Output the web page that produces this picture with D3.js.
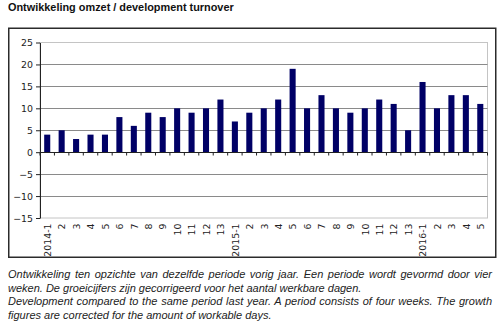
<!DOCTYPE html>
<html>
<head>
<meta charset="utf-8">
<script src="https://cdn.jsdelivr.net/npm/d3@7"></script>
<style>
  html, body { margin: 0; padding: 0; background: #fff; }
  svg { display: block; }
</style>
</head>
<body>
<svg id="chart" width="500" height="325"></svg>
<script>
// Four-weekly periods (13 per year)
const periods = [
  "2014-1","2","3","4","5","6","7","8","9","10","11","12","13",
  "2015-1","2","3","4","5","6","7","8","9","10","11","12","13",
  "2016-1","2","3","4","5"
];
// Year-on-year turnover development, %
const growth = [
  4, 5, 3, 4, 4, 8, 6, 9, 8, 10, 9, 10, 12,
  7, 9, 10, 12, 19, 10, 13, 10, 9, 10, 12, 11, 5,
  16, 10, 13, 13, 11
];
const yTicks = [-15, -10, -5, 0, 5, 10, 15, 20, 25];

const title = "Ontwikkeling omzet / development turnover";
const noteLines = [
  { text: "Ontwikkeling ten opzichte van dezelfde periode vorig jaar. Een periode wordt gevormd door vier", justify: true },
  { text: "weken. De groeicijfers zijn gecorrigeerd voor het aantal werkbare dagen.", justify: false },
  { text: "Development compared to the same period last year. A period consists of four weeks. The growth", justify: true },
  { text: "figures are corrected for the amount of workable days.", justify: false }
];

const svg = d3.select("#chart");
const axisFont = "'DejaVu Sans', Verdana, sans-serif";
const textFont = "'Liberation Sans', Arial, sans-serif";

// Title
svg.append("text")
  .attr("x", 8).attr("y", 11)
  .attr("font-family", textFont)
  .attr("font-size", 10.9).attr("font-weight", "bold")
  .attr("fill", "#111")
  .text(title);

// Chart frame
svg.append("rect")
  .attr("x", 8.75).attr("y", 28.25)
  .attr("width", 487).attr("height", 229)
  .attr("fill", "#fff")
  .attr("stroke", "#2b2b2b").attr("stroke-width", 1.5);

const plot = { left: 40, right: 487.5, top: 42.5, bottom: 218 };

const x = d3.scaleBand()
  .domain(d3.range(periods.length))
  .range([plot.left, plot.right])
  .paddingInner(0.58).paddingOuter(0.29);

const y = d3.scaleLinear()
  .domain([-15, 25])
  .range([plot.bottom, plot.top]);

// Plot area border (light)
svg.append("rect")
  .attr("x", plot.left).attr("y", plot.top)
  .attr("width", plot.right - plot.left).attr("height", plot.bottom - plot.top)
  .attr("fill", "none").attr("stroke", "#c4c4c4").attr("stroke-width", 1);

// Horizontal gridlines
svg.append("g")
  .selectAll("line")
  .data(yTicks.filter(v => v !== 0 && v !== -15 && v !== 25))
  .join("line")
  .attr("x1", plot.left).attr("x2", plot.right)
  .attr("y1", d => Math.round(y(d)) + 0.5).attr("y2", d => Math.round(y(d)) + 0.5)
  .attr("stroke", "#8a8a8a").attr("stroke-width", 1);

// Bars
svg.append("g")
  .selectAll("rect")
  .data(growth)
  .join("rect")
  .attr("x", (d, i) => x(i))
  .attr("width", x.bandwidth())
  .attr("y", d => y(Math.max(0, d)))
  .attr("height", d => Math.abs(y(d) - y(0)))
  .attr("fill", "#000066");

// Y axis
const yAxis = svg.append("g")
  .attr("transform", `translate(${plot.left},0)`)
  .call(d3.axisLeft(y).tickValues(yTicks).tickSize(4).tickSizeOuter(0).tickPadding(3));
yAxis.select(".domain").attr("stroke", "#222");
yAxis.selectAll(".tick line").attr("stroke", "#222");
yAxis.selectAll("text")
  .attr("font-family", axisFont).attr("font-size", 9.4).attr("fill", "#222");

// Zero line with category tick marks
const bounds = d3.range(periods.length + 1).map(i => plot.left + i * (plot.right - plot.left) / periods.length);
const zeroY = Math.round(y(0)) + 0.5;
svg.append("line")
  .attr("x1", plot.left).attr("x2", plot.right)
  .attr("y1", zeroY).attr("y2", zeroY)
  .attr("stroke", "#222").attr("stroke-width", 1);
svg.append("g")
  .selectAll("line")
  .data(bounds)
  .join("line")
  .attr("x1", d => d).attr("x2", d => d)
  .attr("y1", zeroY).attr("y2", zeroY + 3)
  .attr("stroke", "#222").attr("stroke-width", 1);

// Period labels, rotated, below the plot area
svg.append("g")
  .selectAll("text")
  .data(periods)
  .join("text")
  .attr("transform", (d, i) => `translate(${x(i) + x.bandwidth() / 2 + 0.5},${plot.bottom + 5.5}) rotate(-90)`)
  .attr("text-anchor", "end")
  .attr("dy", "0.35em")
  .attr("font-family", axisFont).attr("font-size", 9.4).attr("fill", "#222")
  .text(d => d);

// Explanatory note, justified where the paragraph continues
const noteLeft = 8, noteRight = 492;
const noteG = svg.append("g")
  .attr("font-family", textFont).attr("font-style", "italic")
  .attr("font-size", 11).attr("fill", "#222");
noteLines.forEach((ln, i) => {
  const t = noteG.append("text")
    .attr("x", noteLeft).attr("y", 278 + i * 13.5)
    .text(ln.text);
  if (ln.justify) {
    const natural = t.node().getComputedTextLength();
    const gaps = (ln.text.match(/ /g) || []).length;
    t.attr("word-spacing", (noteRight - noteLeft - natural) / gaps);
  }
});
</script>
</body>
</html>
